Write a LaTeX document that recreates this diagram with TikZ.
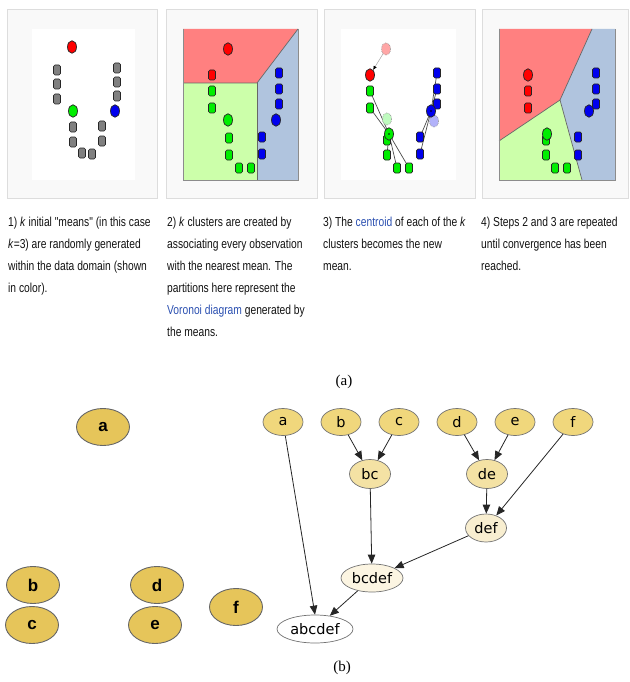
\documentclass[tikz,border=0pt]{standalone}
\usepackage{fontspec}
\setmainfont{Liberation Sans}
\newfontfamily\capfont[FakeStretch=0.79]{Liberation Sans}
\newfontfamily\dvfont{DejaVu Sans}
\newfontfamily\serfont{Liberation Serif}
\usetikzlibrary{shapes.geometric,arrows.meta}
\definecolor{frameline}{HTML}{DDDDDD}
\definecolor{framefill}{HTML}{F9F9F9}
\definecolor{vred}{HTML}{FF8080}
\definecolor{vgreen}{HTML}{CCFFAA}
\definecolor{vblue}{HTML}{B0C4DE}
\definecolor{linkblue}{HTML}{2A4FB0}
\definecolor{captext}{HTML}{111111}
\definecolor{goldA}{HTML}{E6C55A}
\definecolor{leafc}{HTML}{F0D77C}
\definecolor{midc}{HTML}{F4E2A4}
\definecolor{defc}{HTML}{F8EED0}
\definecolor{bcdefc}{HTML}{FCF5E2}
\definecolor{pgray}{HTML}{808080}
\definecolor{pgreen}{HTML}{00EE00}
\definecolor{pblue}{HTML}{0000EE}
\tikzset{
  panel/.style={draw=frameline, fill=framefill, line width=0.8},
  region/.style={draw=black!60, line width=0.7},
  mean/.style={ellipse, minimum width=9, minimum height=12.5, inner sep=0, draw=black!85, line width=0.7},
  ghost/.style={ellipse, minimum width=9, minimum height=12.5, inner sep=0, draw=black!40, densely dotted, line width=0.7},
  sq/.style={rectangle, rounded corners=1.5, minimum width=7, minimum height=10, inner sep=0, draw=black!85, line width=0.7},
  capt/.style={anchor=north west, align=left, inner sep=0, text=captext, font=\capfont\fontsize{13}{22}\selectfont},
  bigleaf/.style={ellipse, minimum width=53, minimum height=37, inner sep=0, draw=black!60, line width=0.9, fill=goldA, font=\bfseries\fontsize{17}{17}\selectfont},
  dnode/.style={ellipse, minimum height=27, inner sep=0, draw=black!55, line width=0.7, font=\dvfont\fontsize{14.5}{14.5}\selectfont},
  darr/.style={-{Triangle[length=9,width=7.5]}, black!85, line width=0.8},
  cl/.style={black!70, line width=0.7},
}
\begin{document}
\begin{tikzpicture}[x=1pt,y=-1pt]
\useasboundingbox (0,0) rectangle (629,682);
% ---------- frames ----------
\draw[panel] (7,9) rectangle (157,198);
\draw[panel] (166,9) rectangle (317,198);
\draw[panel] (324,9) rectangle (475,198);
\draw[panel] (482,9) rectangle (628,198);
% ---------- panel 1 ----------
\fill[white] (32,29) rectangle (135,180);
\foreach \x/\y [count=\i] in {57/70,57/84,57/99,117/68,117/82,117/96,73/127,73/142,82/153,92/154,102/126,102/141}
  \node[sq, fill=pgray] (ga\i) at (\x,\y) {};
\node[mean, fill=red] (m1r) at (72,47) {};
\node[mean, fill=pgreen] (m1g) at (73,111) {};
\node[mean, fill=pblue] (m1b) at (115,111) {};
% ---------- panel 2 ----------
\fill[vred] (183,29) -- (298,29) -- (257,83) -- (183,83) -- cycle;
\fill[vgreen] (183,83) -- (257,83) -- (257,180) -- (183,180) -- cycle;
\fill[vblue] (257,83) -- (298,29) -- (298,180) -- (257,180) -- cycle;
\draw[region] (183,83) -- (257,83) -- (298,29);
\draw[region] (257,83) -- (257,180);
\draw[black!45, line width=0.6] (183,29) -- (183,180) -- (298,180) -- (298,29);
\node[sq, fill=red] (s2r) at (212,75) {};
\foreach \x/\y [count=\i] in {212/91,212/108,229/138,229/155,239/168,251/168}
  \node[sq, fill=pgreen] (s2g\i) at (\x,\y) {};
\foreach \x/\y [count=\i] in {279/73,279/89,279/104,262/137,262/154}
  \node[sq, fill=pblue] (s2b\i) at (\x,\y) {};
\node[mean, fill=red] (m2r) at (228,49) {};
\node[mean, fill=pgreen] (m2g) at (228,120) {};
\node[mean, fill=pblue] (m2b) at (276,120) {};
% ---------- panel 3 ----------
\fill[white] (341,29) rectangle (456,180);
\coordinate (c3g) at (389,134);
\coordinate (c3b) at (431,111);
\foreach \x/\y [count=\i] in {370/91,370/108,387/140,387/155,397/168,409/168}
  \coordinate (q3g\i) at (\x,\y);
\foreach \x/\y [count=\i] in {437/73,437/89,437/104,420/137,420/154}
  \coordinate (q3b\i) at (\x,\y);
\foreach \i in {1,...,6} \draw[cl] (q3g\i) -- (c3g);
\foreach \i in {1,...,5} \draw[cl] (q3b\i) -- (c3b);
\node[ghost, fill=red!35] (o3r) at (386,49) {};
\node[ghost, fill=pgreen!25] (o3g) at (387,119) {};
\node[ghost, fill=pblue!30] (o3b) at (434,121) {};
\foreach \i in {1,...,6} \node[sq, fill=pgreen] (s3g\i) at (q3g\i) {};
\foreach \i in {1,...,5} \node[sq, fill=pblue] (s3b\i) at (q3b\i) {};
\node[mean, fill=red] (m3r) at (370,75) {};
\node[mean, fill=pgreen] (m3g) at (c3g) {};
\node[mean, fill=pblue] (m3b) at (c3b) {};
\fill[black] (m3g.center) circle (0.9);
\fill[black] (m3b.center) circle (0.9);
\draw[black!35, line width=0.5, -{Latex[length=4,width=3.5,black]}] (o3r) -- (m3r);
% ---------- panel 4 ----------
\fill[vred] (499,29) -- (592,29) -- (560,100) -- (499,141) -- cycle;
\fill[vblue] (592,29) -- (615,29) -- (615,180) -- (582,180) -- (560,100) -- cycle;
\fill[vgreen] (499,141) -- (560,100) -- (582,180) -- (499,180) -- cycle;
\draw[region] (499,141) -- (560,100) -- (592,29);
\draw[region] (560,100) -- (582,180);
\draw[black!45, line width=0.6] (499,29) -- (499,180) -- (615,180) -- (615,29);
\foreach \x/\y [count=\i] in {528/91,528/108}
  \node[sq, fill=red] (s4r\i) at (\x,\y) {};
\foreach \x/\y [count=\i] in {546/140,546/155,555/168,567/168}
  \node[sq, fill=pgreen] (s4g\i) at (\x,\y) {};
\foreach \x/\y [count=\i] in {596/73,596/89,596/104,578/137,578/155}
  \node[sq, fill=pblue] (s4b\i) at (\x,\y) {};
\node[mean, fill=red] (m4r) at (528,75) {};
\node[mean, fill=pgreen] (m4g) at (547,134) {};
\node[mean, fill=pblue] (m4b) at (589,111) {};
% ---------- captions ----------
\node[capt] (t1) at (8,217) {1) \textit{k} initial "means" (in this case\\\textit{k}=3) are randomly generated\\within the data domain (shown\\in color).};
\node[capt] (t2) at (167,217) {2) \textit{k} clusters are created by\\associating every observation\\with the nearest mean. The\\partitions here represent the\\\textcolor{linkblue}{Voronoi diagram} generated by\\the means.};
\node[capt] (t3) at (323,217) {3) The \textcolor{linkblue}{centroid} of each of the \textit{k}\\clusters becomes the new\\mean.};
\node[capt] (t4) at (481,217) {4) Steps 2 and 3 are repeated\\until convergence has been\\reached.};
\node[font=\serfont\fontsize{15}{15}\selectfont] (capa) at (344,382) {(a)};
\node[font=\serfont\fontsize{15}{15}\selectfont] (capb) at (342,668) {(b)};
% ---------- part (b) left ----------
\node[bigleaf] (la) at (103,427) {a};
\node[bigleaf] (lb) at (33,585) {b};
\node[bigleaf] (lc) at (32,625) {c};
\node[bigleaf] (ld) at (157,585) {d};
\node[bigleaf] (le) at (155,625) {e};
\node[bigleaf] (lf) at (236,607) {f};
% ---------- part (b) dendrogram ----------
\node[dnode, fill=leafc, minimum width=40] (a) at (283,422) {a};
\node[dnode, fill=leafc, minimum width=40] (b) at (341,422) {b};
\node[dnode, fill=leafc, minimum width=40] (c) at (399,422) {c};
\node[dnode, fill=leafc, minimum width=40] (d) at (457,422) {d};
\node[dnode, fill=leafc, minimum width=40] (e) at (515,422) {e};
\node[dnode, fill=leafc, minimum width=40] (f) at (573,422) {f};
\node[dnode, fill=midc, minimum width=41, minimum height=29] (bc) at (370,474) {bc};
\node[dnode, fill=midc, minimum width=41, minimum height=29] (de) at (487,474) {de};
\node[dnode, fill=defc, minimum width=41, minimum height=28] (def) at (486,528) {def};
\node[dnode, fill=bcdefc, minimum width=62, minimum height=28] (bcdef) at (372,578) {bcdef};
\node[dnode, fill=white, minimum width=76, minimum height=28] (abcdef) at (315,629) {abcdef};
\draw[darr] (b) -- (bc);
\draw[darr] (c) -- (bc);
\draw[darr] (d) -- (de);
\draw[darr] (e) -- (de);
\draw[darr] (de) -- (def);
\draw[darr] (f) -- (def);
\draw[darr] (bc) -- (bcdef);
\draw[darr] (def) -- (bcdef);
\draw[darr] (bcdef) -- (abcdef);
\draw[darr] (a) -- (abcdef.north);
\end{tikzpicture}
\end{document}
